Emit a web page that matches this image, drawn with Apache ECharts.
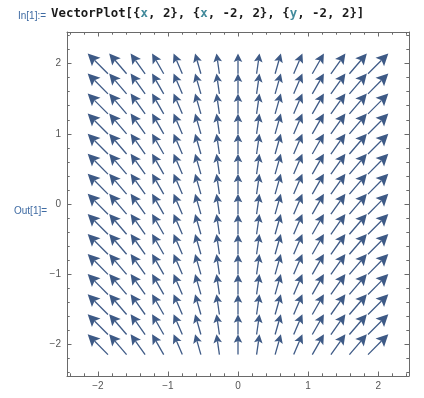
<!DOCTYPE html>
<html>
<head>
<meta charset="utf-8">
<script src="https://cdn.jsdelivr.net/npm/echarts@6/dist/echarts.min.js"></script>
<style>
  html, body { margin: 0; padding: 0; background: #fff; }
  #main { width: 424px; height: 398px; }
</style>
</head>
<body>
<div id="main"></div>
<script>
// grid points of VectorPlot[{x, 2}, {x, -2, 2}, {y, -2, 2}]
const gridX = [-2, -1.714, -1.429, -1.143, -0.857, -0.571, -0.286, 0, 0.286, 0.571, 0.857, 1.143, 1.429, 1.714, 2];
const gridY = [-2, -1.714, -1.429, -1.143, -0.857, -0.571, -0.286, 0, 0.286, 0.571, 0.857, 1.143, 1.429, 1.714, 2];
// vector components: u per column, v per row
const vecU = [-2, -1.714, -1.429, -1.143, -0.857, -0.571, -0.286, 0, 0.286, 0.571, 0.857, 1.143, 1.429, 1.714, 2];
const vecV = [2, 2, 2, 2, 2, 2, 2, 2, 2, 2, 2, 2, 2, 2, 2];

const majorTicks = [-2, -1, 0, 1, 2];
const minorTicks = [-2.4, -2.2, -1.8, -1.6, -1.4, -1.2, -0.8, -0.6, -0.4, -0.2,
                    0.2, 0.4, 0.6, 0.8, 1.2, 1.4, 1.6, 1.8, 2.2, 2.4];

const inputText = 'VectorPlot[{x, 2}, {x, -2, 2}, {y, -2, 2}]';

const arrowColor = '#3e5a86';
const frameColor = '#6a6a6a';
const arrowScale = 0.145;   // data units per unit of |v|

const data = [];
gridX.forEach((x, i) => {
    gridY.forEach((y, j) => {
        data.push([x, y, vecU[i], vecV[j]]);
    });
});

const chart = echarts.init(document.getElementById('main'));

const minus = v => String(v).replace('-', '\u2212');

function makeAxis(kind, position, ticks, len, withLabels) {
    const ax = {
        type: 'value',
        position: position,
        min: kind === 'x' ? -2.44 : -2.45,
        max: kind === 'x' ? 2.44 : 2.45,
        axisLine: { show: withLabels !== null, onZero: false, lineStyle: { color: frameColor, width: 1 } },
        axisTick: { show: true, inside: true, length: len, customValues: ticks, lineStyle: { color: frameColor, width: 1 } },
        axisLabel: { show: false },
        splitLine: { show: false }
    };
    if (withLabels) {
        ax.axisLabel = {
            show: true,
            customValues: ticks,
            formatter: minus,
            color: '#555',
            fontSize: 10,
            fontFamily: 'Liberation Sans, Arial, sans-serif',
            margin: kind === 'x' ? 5 : 6
        };
    }
    return ax;
}

// the input line: black code, with the symbols x / y in teal (monospace keeps them aligned)
const isVar = ch => ch === 'x' || ch === 'y';
const codePlain = inputText.split('').map(ch => isVar(ch) ? ' ' : ch).join('');
const codeVars = inputText.split('').map(ch => isVar(ch) ? ch : ' ').join('');
const codeFont = 'bold 12.4px DejaVu Sans Mono, monospace';

const option = {
    animation: false,
    grid: { left: 67, top: 32, width: 342, height: 344, containLabel: false },
    xAxis: [
        makeAxis('x', 'bottom', majorTicks, 4.5, true),
        makeAxis('x', 'bottom', minorTicks, 2.7, null),
        makeAxis('x', 'top', majorTicks, 4.5, false),
        makeAxis('x', 'top', minorTicks, 2.7, null)
    ],
    yAxis: [
        makeAxis('y', 'left', majorTicks, 4.5, true),
        makeAxis('y', 'left', minorTicks, 2.7, null),
        makeAxis('y', 'right', majorTicks, 4.5, false),
        makeAxis('y', 'right', minorTicks, 2.7, null)
    ],
    graphic: [
        {
            type: 'text', left: 18, top: 11,
            style: { text: 'In[1]:=', fill: '#3f6ba3', font: '10px Liberation Sans, Arial, sans-serif' }
        },
        {
            type: 'text', x: 51, y: 8,
            style: { text: codePlain, fill: '#1a1a1a', font: codeFont }
        },
        {
            type: 'text', x: 51, y: 8,
            style: { text: codeVars, fill: '#438b9c', font: codeFont }
        },
        {
            type: 'text', left: 14, top: 206,
            style: { text: 'Out[1]=', fill: '#3f6ba3', font: '10px Liberation Sans, Arial, sans-serif' }
        }
    ],
    series: [{
        type: 'custom',
        xAxisIndex: 0,
        yAxisIndex: 0,
        data: data,
        clip: false,
        renderItem: function (params, api) {
            const x = api.value(0), y = api.value(1);
            const u = api.value(2), v = api.value(3);
            const tail = api.coord([x - u * arrowScale / 2, y - v * arrowScale / 2]);
            const tip = api.coord([x + u * arrowScale / 2, y + v * arrowScale / 2]);
            const dx = tip[0] - tail[0], dy = tip[1] - tail[1];
            const L = Math.hypot(dx, dy);
            const ux = dx / L, uy = dy / L;
            const hl = L * 0.42, hw = L * 0.21;
            const bx = tip[0] - ux * hl, by = tip[1] - uy * hl;
            const nx = tip[0] - ux * hl * 0.8, ny = tip[1] - uy * hl * 0.8;
            return {
                type: 'group',
                children: [
                    {
                        type: 'line',
                        shape: { x1: tail[0], y1: tail[1], x2: nx, y2: ny },
                        style: { stroke: arrowColor, lineWidth: 1.3 }
                    },
                    {
                        type: 'polygon',
                        shape: {
                            points: [
                                tip,
                                [bx - uy * hw, by + ux * hw],
                                [nx, ny],
                                [bx + uy * hw, by - ux * hw]
                            ]
                        },
                        style: { fill: arrowColor }
                    }
                ]
            };
        }
    }]
};

chart.setOption(option);
</script>
</body>
</html>
